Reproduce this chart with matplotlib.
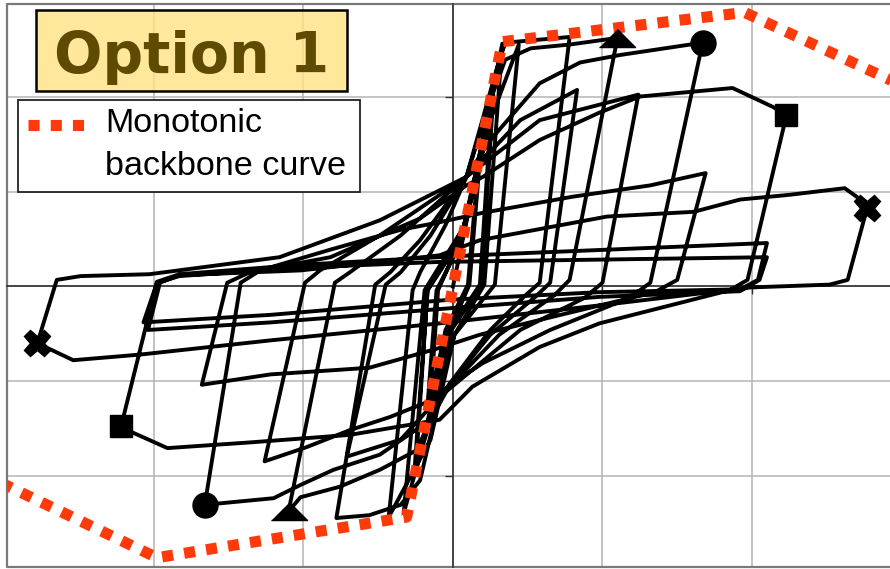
import matplotlib
matplotlib.use("Agg")
import matplotlib.pyplot as plt
import numpy as np
from matplotlib.patches import Rectangle
from matplotlib.lines import Line2D

# ---- cyclic test record (drift units on x, normalised force on y) ----
# initial small-amplitude cycles
x_small = [0.00, 0.17, 0.10, -0.05, -0.15, -0.10, 0.05, 0.18, 0.11, -0.05, -0.17, -0.11,
           0.06, 0.26, 0.18, -0.02, -0.25, -0.17, 0.05, 0.27, 0.19, -0.01, -0.26, -0.17]
y_small = [0.00, 1.29, 0.02, -0.46, -1.20, -0.04, 0.49, 1.34, 0.02, -0.57, -1.25, -0.04,
           0.49, 1.97, 0.02, -0.46, -1.94, -0.04, 0.49, 2.03, 0.02, -0.46, -2.00, -0.04]

# cycles reaching the backbone corner
x_yield = [0.08, 0.33, 0.21, 0.01, -0.33, -0.19, 0.08, 0.25, 0.44, 0.28, 0.01, -0.15, -0.43, -0.27]
y_yield = [0.65, 2.57, 0.02, -0.51, -2.40, -0.04, 0.65, 1.76, 2.56, 0.02, -0.51, -1.62, -2.44, -0.04]

# amplitude 0.8
x_amp08 = [-0.22, -0.05, 0.09, 0.29, 0.35, 0.78, 0.58, 0.48, 0.25, -0.09, -0.22, -0.35, -0.56,
           -0.78, -0.52,
           -0.42, -0.22, 0.09, 0.45, 0.83, 0.65, 0.55, 0.25, -0.09, -0.35, -0.71, -0.45]
y_amp08 = [0.15, 0.65, 1.16, 2.29, 2.58, 2.64, 0.04, -0.10, -0.46, -1.17, -2.05, -2.31, -2.42,
           -2.45, 0.02,
           0.15, 0.49, 1.16, 1.76, 2.08, 0.04, -0.11, -0.51, -1.17, -1.62, -1.80, 0.02]

# amplitude 1.1 (triangle)
x_amp11 = [-0.35, -0.15, 0.09, 0.25, 0.35, 0.52, 0.78, 1.10, 0.78, 0.68, 0.31, -0.09, -0.24,
           -0.49, -0.76, -1.02, -1.10, -0.79,
           -0.69, -0.35, 0.09, 0.58, 1.24, 1.00, 0.88, 0.45, -0.09, -0.42, -0.69, -0.98, -1.26,
           -0.99]
y_amp11 = [0.15, 0.54, 1.16, 1.97, 2.40, 2.52, 2.56, 2.63, 0.07, -0.09, -0.51, -1.17, -1.73,
           -1.94, -2.12, -2.23, -2.38, 0.04,
           0.15, 0.54, 1.16, 1.76, 2.03, 0.04, -0.12, -0.46, -1.17, -1.38, -1.52, -1.70, -1.85,
           0.04]

# amplitude 1.7 (circle)
x_amp17 = [-0.89, -0.49, 0.09, 0.25, 0.58, 0.85, 1.12, 1.67, 1.32, 1.18, 0.65, 0.20, -0.02,
           -0.15, -0.49, -0.80, -1.02, -1.20, -1.66, -1.42,
           -1.29, -0.82, -0.35, -0.09, 0.20, 0.80, 1.32, 1.69, 1.50, 1.35, 0.72, 0.18, -0.09,
           -0.56, -1.22, -1.68, -1.51]
y_amp17 = [0.17, 0.54, 1.16, 1.55, 2.15, 2.37, 2.45, 2.58, 0.04, -0.12, -0.46, -0.81, -1.04,
           -1.41, -1.78, -1.94, -2.10, -2.24, -2.31, 0.04,
           0.17, 0.39, 0.60, 0.68, 0.78, 0.95, 1.07, 1.20, 0.07, -0.06, -0.30, -0.51, -0.65,
           -0.86, -0.93, -1.04, 0.04]

# amplitude 2.2 (square)
x_amp22 = [-1.36, -0.82, -0.22, 0.09, 0.20, 0.58, 0.98, 1.25, 1.87, 2.14, 2.23, 1.97, 1.85,
           0.98, 0.58, 0.13, -0.09, -0.69, -1.36, -1.91, -2.15, -2.22, -1.98,
           -1.83, -1.02, -0.09, 0.13, 2.10, 2.04, 1.92, 0.98, -0.02, -1.22, -2.07, -1.98,
           -1.83, -1.02, -0.09, 2.10, 2.05, 1.92, 0.98, -0.02, -1.22, -2.04, -1.96]
y_amp22 = [0.15, 0.31, 0.72, 1.07, 1.16, 1.55, 1.84, 2.01, 2.10, 1.90, 1.81, 0.07, -0.04,
           -0.39, -0.64, -1.06, -1.41, -1.57, -1.65, -1.71, -1.54, -1.48, 0.05,
           0.13, 0.23, 0.31, 0.33, 0.46, 0.07, -0.03, -0.06, -0.14, -0.30, -0.38, 0.04,
           0.11, 0.20, 0.26, 0.31, 0.07, -0.05, -0.11, -0.23, -0.38, -0.46, 0.04]

# amplitude 2.8 (cross)
x_amp28 = [-1.83, -1.02, -0.09, 0.18, 1.03, 1.61, 1.92, 2.25, 2.62, 2.70, 2.77, 2.64, 2.52,
           1.99, 0.98, -0.09, -1.22, -2.09, -2.54, -2.78, -2.65, -2.49, -2.03, -1.16, -0.49,
           0.09, 0.25]
y_amp28 = [0.12, 0.17, 0.33, 0.49, 0.74, 0.79, 0.92, 0.97, 1.04, 0.95, 0.83, 0.07, 0.02,
           -0.01, -0.20, -0.39, -0.57, -0.72, -0.78, -0.60, 0.07, 0.11, 0.13, 0.31, 0.70,
           1.16, 1.44]

# first-cycle peaks marked at each large amplitude
cross_x, cross_y = [2.77, -2.78], [0.83, -0.60]
square_x, square_y = [2.23, -2.22], [1.81, -1.48]
circle_x, circle_y = [1.67, -1.66], [2.58, -2.31]
tri_x, tri_y = [1.10, -1.10], [2.63, -2.38]

# monotonic backbone envelope
backbone_x = [-3.02, -1.98, -0.31, 0.33, 1.95, 3.00]
backbone_y = [-2.08, -2.87, -2.44, 2.59, 2.90, 2.13]

grid_x = [-2, -1, 0, 1, 2]
grid_y = [-2, -1, 0, 1, 2]

RED = "#ff3a0a"

fig = plt.figure(figsize=(8.9, 5.69), dpi=100)
ax = fig.add_axes([7 / 890, 2 / 569, 883 / 890, 563 / 569])
ax.set_xlim(-2.983, 2.923)
ax.set_ylim(-2.968, 2.989)

ax.set_xticks(grid_x)
ax.set_yticks(grid_y)
ax.set_axisbelow(True)
ax.grid(True, color="#b4b4b4", lw=1.1)
for s in ("top", "right"):
    ax.spines[s].set_visible(False)
for s in ("left", "bottom"):
    ax.spines[s].set_position(("data", 0))
    ax.spines[s].set_color("#303030")
    ax.spines[s].set_linewidth(1.2)
ax.tick_params(direction="out", length=6, width=1.0, colors="#303030",
               labelleft=False, labelbottom=False)

# outer frame (top, left, bottom)
ax.plot([1, 0, 0, 1], [1, 1, 0, 0], transform=ax.transAxes, color="#7a7a7a",
        lw=1.6, clip_on=False, zorder=1)

hx = np.concatenate([x_small, x_yield, x_amp08, x_amp11, x_amp17, x_amp22, x_amp28])
hy = np.concatenate([y_small, y_yield, y_amp08, y_amp11, y_amp17, y_amp22, y_amp28])
ax.plot(hx, hy, color="black", lw=2.8, zorder=3, solid_joinstyle="round")

ax.plot(backbone_x, backbone_y, color=RED, lw=8, linestyle=(0, (1, 1)),
        dash_capstyle="butt", zorder=4)

ax.plot(cross_x, cross_y, ls="none", marker="X", ms=19, color="black", zorder=5)
ax.plot(square_x, square_y, ls="none", marker="s", ms=16, color="black", zorder=5)
ax.plot(circle_x, circle_y, ls="none", marker="o", ms=18, color="black", zorder=5)
ax.plot(tri_x, tri_y, ls="none", marker=[(-1, -0.5), (1, -0.5), (0, 0.5)], ms=26,
        color="black", zorder=5)

# title box
ax.add_patch(Rectangle((0.0328, 0.8455), 0.352, 0.1435, transform=ax.transAxes,
                       facecolor=(1.0, 0.89, 0.51, 0.8), edgecolor="black", lw=1.8,
                       zorder=6))
ax.text(0.209, 0.8774, "Option 1", transform=ax.transAxes, ha="center", va="baseline",
        fontsize=41, fontweight="bold", color="#5e4a00", family="DejaVu Sans", zorder=7)

# legend
ax.add_patch(Rectangle((0.01246, 0.666), 0.3873, 0.1635, transform=ax.transAxes,
                       facecolor="white", edgecolor="#222222", lw=1.3, zorder=6))
ax.add_line(Line2D([0.0238, 0.0906], [0.785, 0.785], transform=ax.transAxes, color=RED,
                   lw=8, linestyle=(0, (1, 1)), dash_capstyle="butt", zorder=7))
ax.text(0.111, 0.7726, "Monotonic", transform=ax.transAxes, ha="left", va="baseline",
        fontsize=24.6, family="Liberation Sans", color="black", zorder=7)
ax.text(0.111, 0.6963, "backbone curve", transform=ax.transAxes, ha="left", va="baseline",
        fontsize=24.6, family="Liberation Sans", color="black", zorder=7)

fig.savefig("out.png", dpi=100)
